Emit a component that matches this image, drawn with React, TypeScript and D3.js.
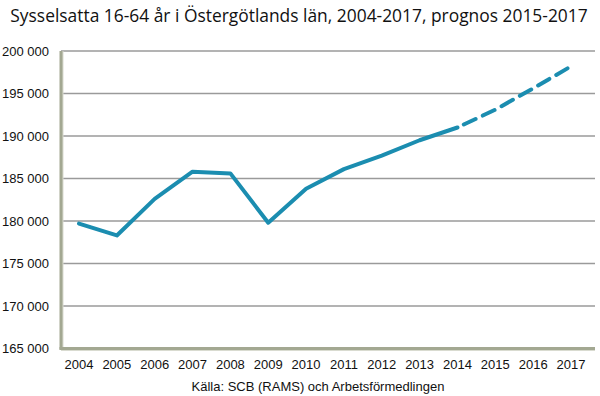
import React from 'react';
import { scaleLinear, scalePoint, line } from 'd3';

const years = ['2004', '2005', '2006', '2007', '2008', '2009', '2010', '2011', '2012', '2013', '2014', '2015', '2016', '2017'];
const employed = [179700, 178300, 182600, 185800, 185600, 179800, 183800, 186100, 187700, 189500, 191000, 193100, 195600, 198200];
const yTicks = [165000, 170000, 175000, 180000, 185000, 190000, 195000, 200000];
const forecastFrom = '2014';

const fmt = (v: number) => `${Math.floor(v / 1000)} ${String(v % 1000).padStart(3, '0')}`;

export default function App() {
  const width = 600;
  const height = 396;
  const left = 61;
  const right = 595;
  const top = 51;
  const bottom = 348.5;

  const x = scalePoint<string>().domain(years).range([79, 571]);
  const y = scaleLinear().domain([165000, 200000]).range([bottom, top]);

  const pts = years.map((yr, i) => ({ yr, v: employed[i] }));
  const cut = years.indexOf(forecastFrom);
  const path = line<{ yr: string; v: number }>()
    .x(d => x(d.yr) as number)
    .y(d => y(d.v));

  const lbl = { fontFamily: 'Liberation Sans, Arial, sans-serif', fontSize: 13, fill: '#111' };

  return (
    <div style={{ position: 'absolute', left: 0, top: 0 }}>
      <svg width={width} height={height} style={{ display: 'block', background: '#fff' }}>
        <text x={299} y={22} textAnchor="middle" fontFamily="Open Sans, sans-serif" fontSize={17.4} fill="#111">
          Sysselsatta 16-64 år i Östergötlands län, 2004-2017, prognos 2015-2017
        </text>

        {/* gridlines */}
        {yTicks.slice(1).map(t => (
          <line key={t} x1={left} x2={right} y1={y(t)} y2={y(t)} stroke="#9a9a9a" strokeWidth={1.3} />
        ))}
        {yTicks.map(t => (
          <text key={'l' + t} x={49} y={y(t) + 4.5} textAnchor="end" {...lbl}>{fmt(t)}</text>
        ))}

        {/* axis frame */}
        <line x1={left + 1.5} x2={left + 1.5} y1={top} y2={bottom + 2} stroke="#d9dbd0" strokeWidth={2} />
        <line x1={left} x2={left} y1={top} y2={bottom + 1} stroke="#a3a892" strokeWidth={3} />
        <line x1={left} x2={right} y1={bottom + 1.5} y2={bottom + 1.5} stroke="#d9dbd0" strokeWidth={2} />
        <line x1={left - 1.5} x2={right} y1={bottom} y2={bottom} stroke="#a3a892" strokeWidth={3} />

        {years.map(yr => (
          <text key={yr} x={x(yr)} y={369} textAnchor="middle" {...lbl}>{yr}</text>
        ))}

        <path d={path(pts.slice(0, cut + 1)) as string} fill="none" stroke="#1b8db0" strokeWidth={4} strokeLinejoin="round" strokeLinecap="round" />
        <path d={path(pts.slice(cut)) as string} fill="none" stroke="#1b8db0" strokeWidth={4} strokeDasharray="13 8" strokeDashoffset={-7} strokeLinecap="round" />

        <text x={318} y={391} textAnchor="middle" {...lbl}>Källa: SCB (RAMS) och Arbetsförmedlingen</text>
      </svg>
    </div>
  );
}
